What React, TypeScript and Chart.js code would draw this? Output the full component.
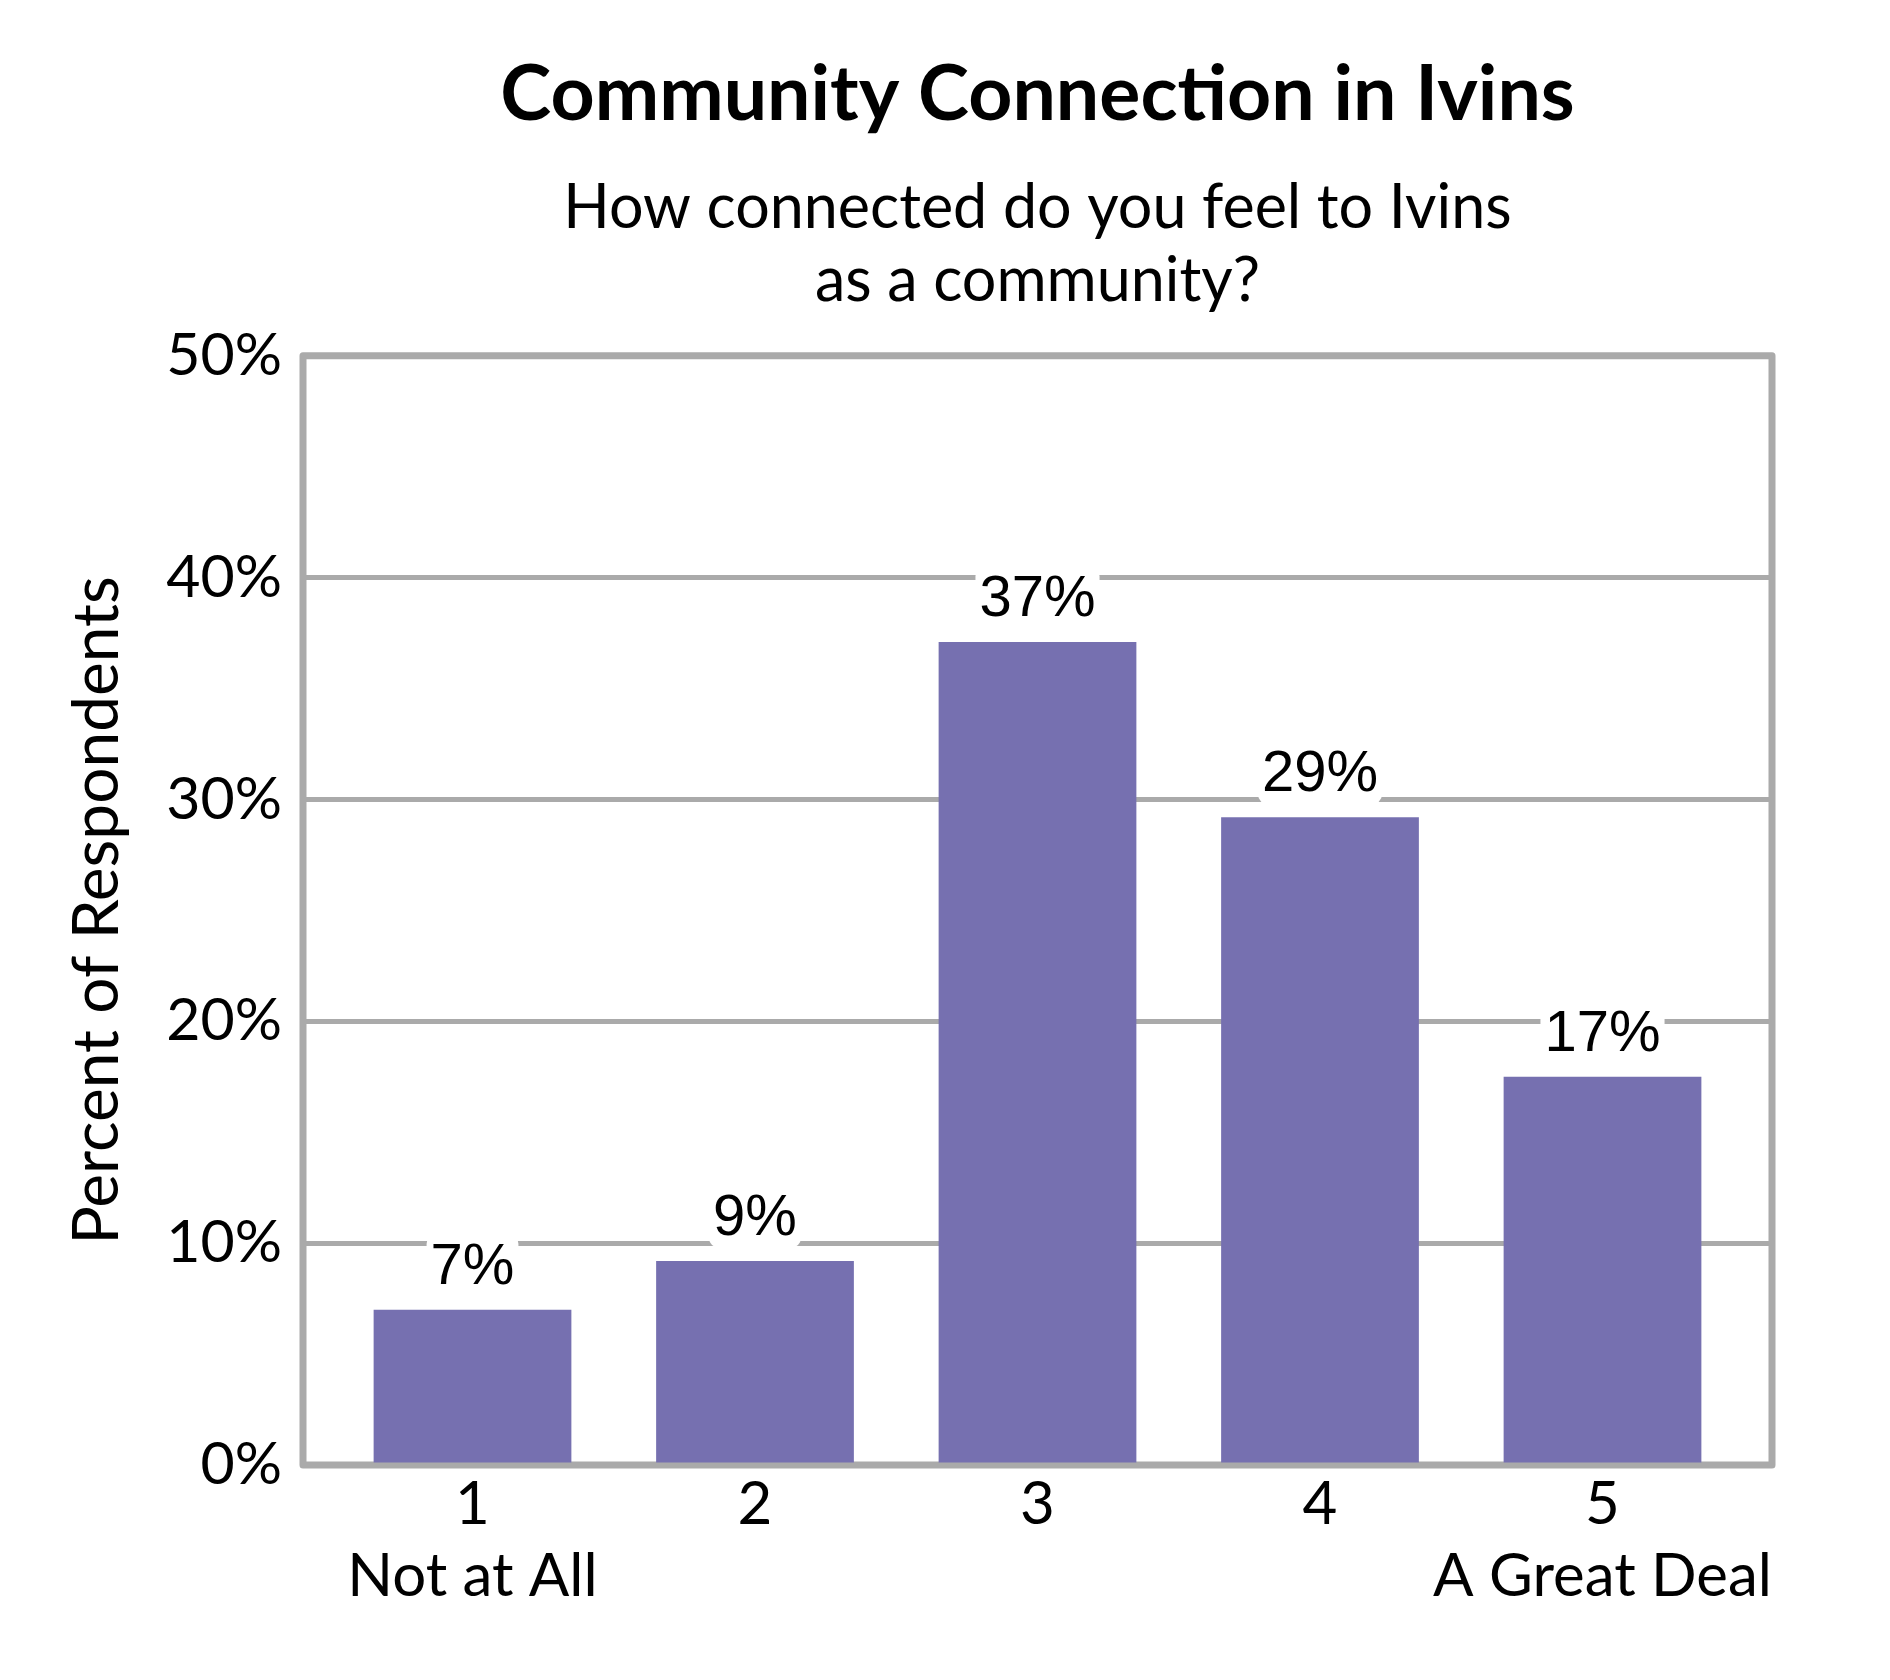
import { useEffect, useRef } from 'react';
import { Chart, registerables } from 'chart.js';

Chart.register(...registerables);

// survey scale points and the word under the two ends
const CATEGORIES = [1, 2, 3, 4, 5];
const CATEGORY_NOTES = ['Not at All', '', '', '', 'A Great Deal'];
// percent of respondents per answer
const PERCENTS = [7.0, 9.2, 37.1, 29.2, 17.5];
const PERCENT_LABELS = ['7%', '9%', '37%', '29%', '17%'];

const TITLE = 'Community Connection in Ivins';
const SUBTITLE = ['How connected do you feel to Ivins', 'as a community?'];
const Y_TITLE = 'Percent of Respondents';

const BAR_COLOR = '#7670b0';
const GRAY = '#aaaaaa';
const FONT = 'Lato';

const framePlugin = {
  id: 'frame',
  beforeDatasetsDraw(chart: Chart) {
    const { ctx, chartArea: a } = chart;
    ctx.save();
    ctx.strokeStyle = GRAY;
    ctx.lineWidth = 7;
    ctx.lineJoin = 'round';
    ctx.strokeRect(a.left, a.top, a.right - a.left, a.bottom - a.top);
    ctx.restore();
  },
};

const valueLabelPlugin = {
  id: 'valueLabels',
  afterDatasetsDraw(chart: Chart) {
    const { ctx } = chart;
    const meta = chart.getDatasetMeta(0);
    ctx.save();
    ctx.font = '58px "Liberation Sans"';
    ctx.textAlign = 'center';
    ctx.textBaseline = 'alphabetic';
    meta.data.forEach((bar: any, i: number) => {
      const text = PERCENT_LABELS[i];
      const w = ctx.measureText(text).width;
      const base = bar.y - 26;
      ctx.fillStyle = '#ffffff';
      ctx.beginPath();
      ctx.roundRect(bar.x - w / 2 - 4, base - 50, w + 8, 63, 10);
      ctx.fill();
      ctx.fillStyle = '#000000';
      ctx.fillText(text, bar.x, base);
    });
    ctx.restore();
  },
};

export default function App() {
  const canvasRef = useRef<HTMLCanvasElement>(null);
  const chartRef = useRef<Chart | null>(null);

  useEffect(() => {
    document.body.style.margin = '0';
    if (!canvasRef.current) return;
    chartRef.current?.destroy();
    chartRef.current = new Chart(canvasRef.current, {
      type: 'bar',
      data: {
        datasets: [
          {
            label: Y_TITLE,
            data: CATEGORIES.map((c, i) => ({ x: c, y: PERCENTS[i] })),
            backgroundColor: BAR_COLOR,
            borderWidth: 0,
            categoryPercentage: 1,
            barPercentage: 0.7,
          },
        ],
      },
      options: {
        animation: false,
        responsive: true,
        maintainAspectRatio: false,
        layout: { padding: { top: 40, left: 0, right: 118, bottom: 0 } },
        plugins: {
          legend: { display: false },
          tooltip: { enabled: false },
          title: {
            display: true,
            text: TITLE,
            fullSize: false,
            color: '#000',
            font: { family: FONT, size: 77, weight: 'bold', lineHeight: 1.2 },
            padding: { top: 9, bottom: 30 },
          },
          subtitle: {
            display: true,
            text: SUBTITLE,
            fullSize: false,
            color: '#000',
            font: { family: FONT, size: 61, lineHeight: 1.2 },
            padding: { top: 0, bottom: 38 },
          },
        },
        scales: {
          x: {
            type: 'linear',
            min: 0.4,
            max: 5.6,
            offset: false,
            bounds: 'data',
            grid: { display: false, drawTicks: false },
            border: { display: false },
            afterBuildTicks: (scale: any) => {
              scale.ticks = CATEGORIES.map((v) => ({ value: v }));
            },
            afterFit: (scale: any) => {
              scale.height = 215;
            },
            ticks: {
              autoSkip: false,
              maxRotation: 0,
              padding: 4,
              color: '#000',
              font: { family: FONT, size: 60, lineHeight: 1.2 },
              callback: (v: any) => {
                const i = CATEGORIES.indexOf(Number(v));
                const note = CATEGORY_NOTES[i];
                return note ? [String(v), note] : String(v);
              },
            },
          },
          y: {
            min: 0,
            max: 50,
            grid: { color: GRAY, lineWidth: 5, drawTicks: false },
            border: { display: false },
            afterFit: (scale: any) => {
              scale.width = 303;
            },
            ticks: {
              stepSize: 10,
              padding: 21,
              color: '#000',
              font: { family: FONT, size: 59 },
              callback: (v: any) => `${v}%`,
            },
            title: {
              display: true,
              text: Y_TITLE,
              color: '#000',
              font: { family: FONT, size: 64, lineHeight: 1.2 },
              padding: { top: 59, bottom: 0 },
            },
          },
        },
      },
      plugins: [framePlugin, valueLabelPlugin],
    });
    return () => {
      chartRef.current?.destroy();
      chartRef.current = null;
    };
  }, []);

  return (
    <div style={{ position: 'relative', width: 1890, height: 1680, background: '#fff' }}>
      <canvas ref={canvasRef} />
    </div>
  );
}
